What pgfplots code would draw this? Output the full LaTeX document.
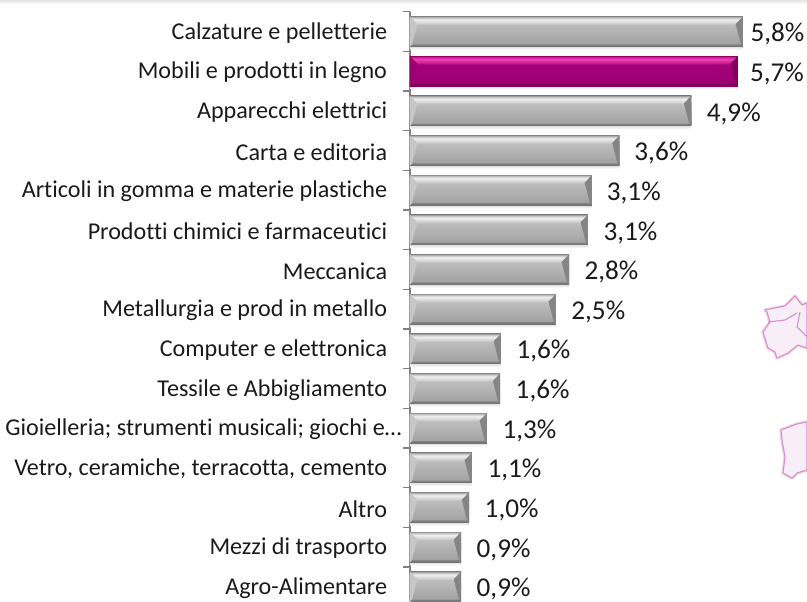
\documentclass[border=0pt]{standalone}
\usepackage{pgfplots}
\usepackage{pgfplotstable}
\pgfplotsset{compat=1.18}
\usepackage{fontspec}
\setmainfont[Ligatures=NoCommon]{Carlito}
\definecolor{axisgrey}{HTML}{808080}
\definecolor{txt}{HTML}{1A1A1A}
\definecolor{mapedge}{HTML}{D98CC8}
\definecolor{mapsoft}{HTML}{F0D4EA}
\definecolor{mapfill}{HTML}{F8EEF7}
\pgfdeclareverticalshading{greybar}{100bp}{
 color(0bp)=(black!55);color(25bp)=(black!55);color(28.5bp)=(black!50);color(30bp)=(black!36);
 color(61bp)=(black!26);color(64bp)=(black!18);color(70bp)=(black!6);color(73.5bp)=(black!25);
 color(75bp)=(black!40);color(100bp)=(black!40)}
\definecolor{pk0}{HTML}{7E005A}
\definecolor{pk1}{HTML}{9C0070}
\definecolor{pk2}{HTML}{A5007A}
\definecolor{pk3}{HTML}{C8208F}
\definecolor{pk4}{HTML}{F040B4}
\pgfdeclareverticalshading{pinkbar}{100bp}{
 color(0bp)=(pk0);color(25bp)=(pk0);color(28.5bp)=(pk0);color(30bp)=(pk1);
 color(61bp)=(pk2);color(64bp)=(pk3);color(70bp)=(pk4);color(73.5bp)=(pk3);
 color(75bp)=(pk1);color(100bp)=(pk1)}
\newcommand{\bevelmark}[2]{% sign, colour
 \pgfsetfillcolor{#2}\pgfsetstrokecolor{#2}%
 \pgfpathmoveto{\pgfqpoint{0pt}{11.25pt}}%
 \pgfpathlineto{\pgfqpoint{#15.5pt}{5.6pt}}%
 \pgfpathlineto{\pgfqpoint{#11.5pt}{-9.75pt}}%
 \pgfpathlineto{\pgfqpoint{0pt}{-11.25pt}}%
 \pgfpathclose\pgfusepathqfill}
\pgfdeclareplotmark{gright}{\bevelmark{-}{black!48}}
\pgfdeclareplotmark{gleft}{\bevelmark{}{black!22}}
\pgfdeclareplotmark{pright}{\bevelmark{-}{pk0}}
\pgfdeclareplotmark{pleft}{\bevelmark{}{pk1}}
\pgfplotstableread{
y v lab gap
0 5.80 5,8 5.5
2 4.90 4,9 11.5
3 3.65 3,6 11
4 3.17 3,1 11
5 3.10 3,1 11.5
6 2.77 2,8 11.5
7 2.54 2,5 11.5
8 1.585 1,6 11.5
9 1.57 1,6 11.5
10 1.34 1,3 11.5
11 1.08 1,1 11.5
12 1.03 1,0 11.5
13 0.89 0,9 11.5
14 0.89 0,9 11.5
}\greydata
\pgfplotstableread{
y v lab gap
1 5.71 5,7 9
}\pinkdata
\newcommand{\mapA}{(765,310)--(785,306)--(795,296)--(802,305)--(807,303)--(807,348)--(798,345)--(788,353)--(777,358)--(775,352)--(768,348)--(763,332)--(770,322)--(767,312)--cycle}
\newcommand{\mapB}{(781,430)--(797,424)--(807,422)--(807,470)--(797,473)--(792,478)--(783,473)--(785,457)--(782,440)--cycle}
\begin{document}
\begin{tikzpicture}
\useasboundingbox (0pt,0pt) rectangle (605.25pt,450.75pt);
% decorative map shapes
\begin{scope}[x=0.75pt,y=-0.75pt,yshift=450.75pt,line join=round]
\draw[mapsoft,line width=2.6pt] \mapA;
\draw[mapsoft,line width=2.6pt] \mapB;
\filldraw[draw=mapedge,fill=mapfill,line width=0.8pt] \mapA;
\filldraw[draw=mapedge,fill=mapfill,line width=0.8pt] \mapB;
\draw[mapedge,line width=0.8pt] (768,322)--(785,320)--(797,313);
\draw[mapedge,line width=0.8pt] (807,337)--(797,327)--(800,312);
\fill[black!10] (0,0) rectangle (807,2);
\fill[black!4] (0,2) rectangle (807,4);
\end{scope}
\begin{axis}[
  at={(307.5pt,0pt)},anchor=south west,
  scale only axis,width=297.75pt,height=441.975pt,
  xmin=0,xmax=6.916,ymin=-0.5,ymax=14.36,y dir=reverse,
  axis y line=left,axis x line=none,
  axis line style={-,axisgrey,line width=1.2pt},
  xbar,bar width=22.5pt,bar shift=0pt,
  ytick={0,...,14},
  yticklabels={Calzature e pelletterie,Mobili e prodotti in legno,Apparecchi elettrici,Carta e editoria,Articoli in gomma e materie plastiche,Prodotti chimici e farmaceutici,Meccanica,Metallurgia e prod in metallo,Computer e elettronica,Tessile e Abbigliamento,{\mbox{Gioielleria; strumenti musicali; giochi e…\kern-11pt}},{Vetro, ceramiche, terracotta, cemento},Altro,Mezzi di trasporto,Agro-Alimentare},
  major tick length=0pt,
  minor ytick={-0.5,0.5,...,13.5},
  minor tick length=5.5pt,
  tick style={axisgrey,line width=1pt},
  yticklabel style={font=\fontsize{18.1pt}{20pt}\selectfont,text=txt,inner sep=0pt,anchor=east,xshift=-17pt,yshift=-1pt},
  tick align=outside,
  clip mode=individual,
]
% soft shadow
\addplot[xbar,bar shift=-2.4pt,fill=black!5,draw=none,forget plot] table[x=v,y=y]{\greydata};
\addplot[xbar,bar shift=-2.4pt,fill=black!5,draw=none,forget plot] table[x=v,y=y]{\pinkdata};
\addplot[xbar,bar shift=-1.2pt,fill=black!12,draw=none,forget plot] table[x=v,y=y]{\greydata};
\addplot[xbar,bar shift=-1.2pt,fill=black!12,draw=none,forget plot] table[x=v,y=y]{\pinkdata};
% bars, one plot per category so that each carries its own shading
\pgfplotsinvokeforeach{0,2,3,4,5,6,7,8,9,10,11,12,13,14}{
\addplot[xbar,shade,shading=greybar,draw=none,restrict y to domain=#1:#1,
  visualization depends on={\thisrow{gap}\as\gapv},
  nodes near coords={\pgfplotspointmeta\%},
  point meta=explicit symbolic,
  every node near coord/.append style={font=\fontsize{20.4pt}{22pt}\selectfont,text=txt,inner sep=0pt,anchor=west,xshift=\gapv pt,yshift=-2pt}]
  table[x=v,y=y,meta=lab]{\greydata};
}
\addplot[xbar,shade,shading=pinkbar,draw=none,
  visualization depends on={\thisrow{gap}\as\gapv},
  nodes near coords={\pgfplotspointmeta\%},
  point meta=explicit symbolic,
  every node near coord/.append style={font=\fontsize{20.4pt}{22pt}\selectfont,text=txt,inner sep=0pt,anchor=west,xshift=\gapv pt,yshift=-2pt}]
  table[x=v,y=y,meta=lab]{\pinkdata};
% bevels
\addplot[only marks,mark=gright] table[x=v,y=y]{\greydata};
\addplot[only marks,mark=gleft] table[x expr=0,y=y]{\greydata};
\addplot[only marks,mark=pright] table[x=v,y=y]{\pinkdata};
\addplot[only marks,mark=pleft] table[x expr=0,y=y]{\pinkdata};
\end{axis}
\end{tikzpicture}
\end{document}
